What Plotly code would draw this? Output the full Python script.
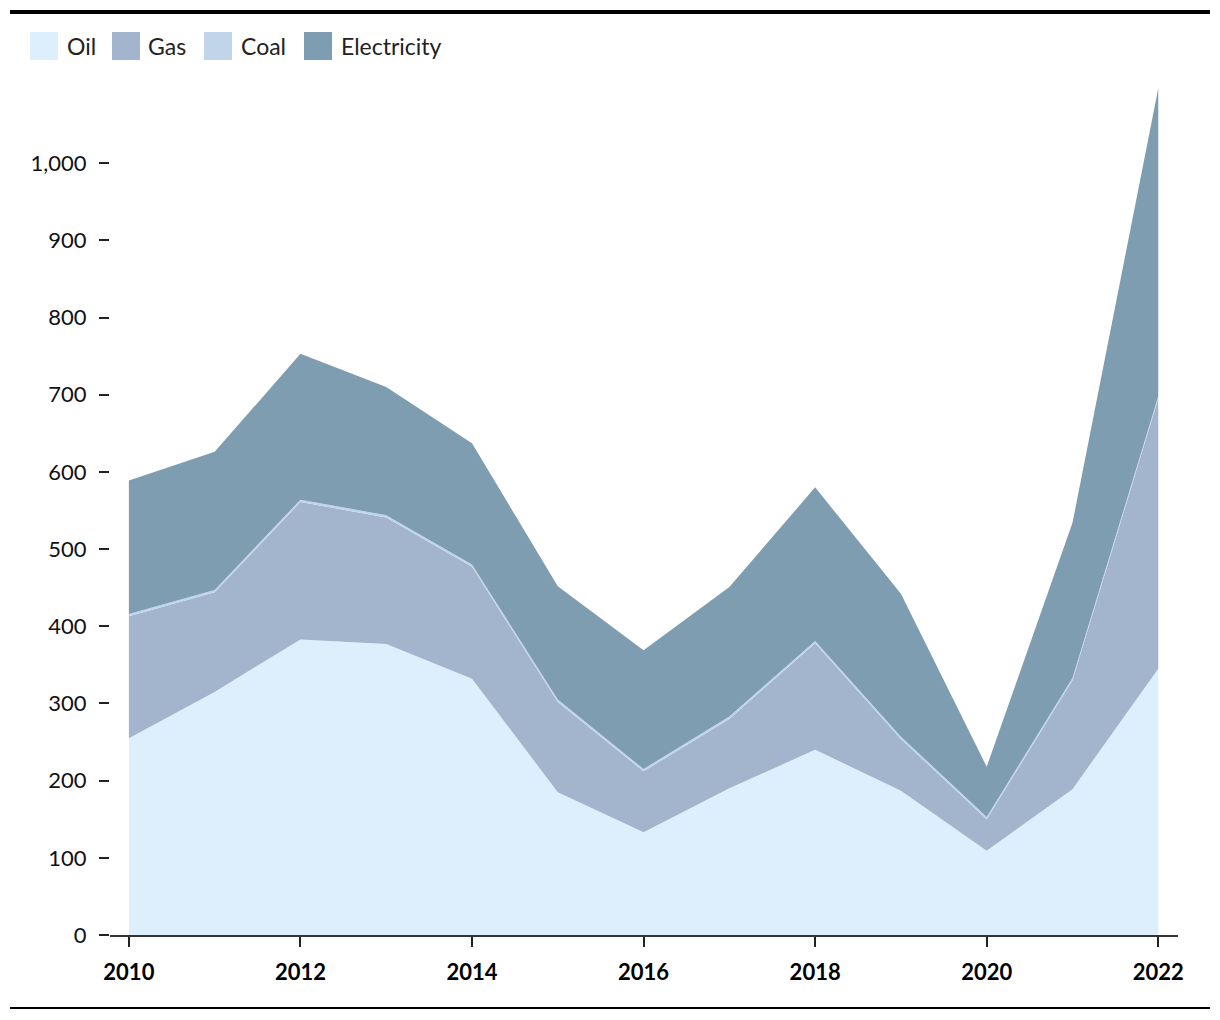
import plotly.graph_objects as go

years = list(range(2010, 2023))
oil = [255, 315, 383, 377, 332, 185, 133, 190, 240, 187, 109, 189, 345]
gas = [158, 129, 178, 164, 145, 117, 79, 90, 138, 67, 41, 141, 350]
coal = [3, 3, 3, 3, 3, 3, 3, 3, 3, 3, 3, 3, 3]
electricity = [173, 179, 189, 166, 157, 147, 154, 168, 199, 185, 65, 201, 399]

names = ["Oil", "Gas", "Coal", "Electricity"]
series = [oil, gas, coal, electricity]
colors = ["#ddeffd", "#a3b5cc", "#c0d4ea", "#7f9db1"]

FONT = "Source Sans Pro, Lato, sans-serif"

fig = go.Figure()
for n, s, c in zip(names, series, colors):
    fig.add_trace(go.Scatter(
        x=years, y=s, name=n, stackgroup="one", mode="lines",
        line=dict(width=0, color=c), fillcolor=c, showlegend=False,
        hovertemplate="%{x}: %{y}<extra>" + n + "</extra>"))

shapes = [
    dict(type="line", xref="paper", yref="paper", x0=-100/1068, x1=1100/1068,
         y0=1 + (86 - 12) / 849, y1=1 + (86 - 12) / 849,
         line=dict(color="black", width=4)),
    dict(type="line", xref="paper", yref="paper", x0=-100/1068, x1=1100/1068,
         y0=-(1008 - 935) / 849, y1=-(1008 - 935) / 849,
         line=dict(color="black", width=2)),
]
annotations = []
# manual legend
sq_x = [30, 112, 204, 304]
tx_x = [65, 146, 239, 339]
for i, n in enumerate(names):
    x0 = (sq_x[i] - 110) / 1068
    x1 = (sq_x[i] + 28 - 110) / 1068
    y0 = 1 + (86 - 60) / 849
    y1 = 1 + (86 - 32) / 849
    shapes.append(dict(type="rect", xref="paper", yref="paper", x0=x0, x1=x1,
                       y0=y0, y1=y1, fillcolor=colors[i], line=dict(width=0)))
    annotations.append(dict(xref="paper", yref="paper", x=(tx_x[i] - 110) / 1068,
                            y=1 + (86 - 46) / 849, text=n, showarrow=False,
                            xanchor="left", yanchor="middle",
                            font=dict(family=FONT, size=23, color="#222")))

fig.update_layout(
    width=1220, height=1020,
    margin=dict(l=110, r=42, t=86, b=85),
    plot_bgcolor="white", paper_bgcolor="white",
    font=dict(family=FONT, size=21, color="#111"),
    shapes=shapes, annotations=annotations,
    xaxis=dict(range=[2009.78, 2022.23], tickvals=[2010, 2012, 2014, 2016, 2018, 2020, 2022],
               ticks="outside", ticklen=10, tickcolor="#222", tickwidth=1.5,
               ticklabelstandoff=7,
               showline=True, linecolor="#333", linewidth=2, showgrid=False, zeroline=False,
               tickfont=dict(family=FONT, size=22, color="#000", weight="bold")),
    yaxis=dict(range=[0, 1100], tickvals=list(range(0, 1001, 100)), tickformat=",",
               ticks="outside", ticklen=10, tickcolor="#222", tickwidth=1.5,
               ticklabelstandoff=8,
               showline=False, showgrid=False, zeroline=False,
               tickfont=dict(family=FONT, size=22, color="#111")),
)

fig.write_html("out.html")
